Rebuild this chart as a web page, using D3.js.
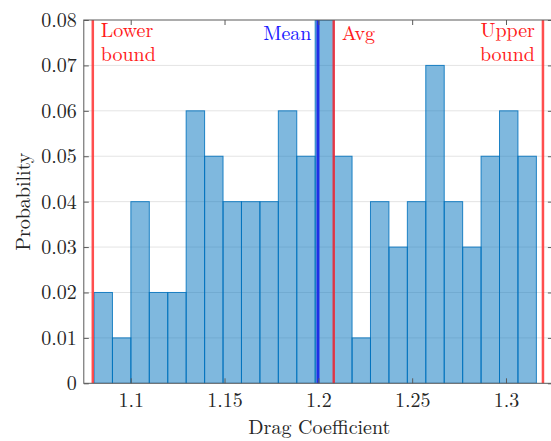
<!DOCTYPE html>
<html>
<head>
<meta charset="utf-8">
<script src="https://cdn.jsdelivr.net/npm/d3@7"></script>
<style>
  html, body { margin: 0; padding: 0; background: #fff; }
  svg { display: block; }
</style>
</head>
<body>
<svg id="chart" width="551" height="441"></svg>
<script>
// ---- data ----
const binStart = 1.08044;
const binWidth = 0.009823;
const probabilities = [0.02, 0.01, 0.04, 0.02, 0.02, 0.06, 0.05, 0.04, 0.04, 0.04, 0.06, 0.05,
                       0.08, 0.05, 0.01, 0.04, 0.03, 0.04, 0.07, 0.04, 0.03, 0.05, 0.06, 0.05];
const xTicks = [1.1, 1.15, 1.2, 1.25, 1.3];
const xTickLabels = ["1.1", "1.15", "1.2", "1.25", "1.3"];
const yTicks = [0, 0.01, 0.02, 0.03, 0.04, 0.05, 0.06, 0.07, 0.08];
const yTickLabels = ["0", "0.01", "0.02", "0.03", "0.04", "0.05", "0.06", "0.07", "0.08"];
const refNames = ["Lower bound", "Mean", "Avg", "Upper bound"];
const refValues = [1.0798, 1.1998, 1.2082, 1.3197];
const xDomain = [1.075, 1.325];
const yDomain = [0, 0.08];

// ---- layout ----
const FONT = "'Latin Modern Roman', 'CMU Serif', 'Liberation Serif', serif";
const padL = 83.8, padR = 552.9, padT = 20, padB = 383.3;
const svg = d3.select("#chart");
const x = d3.scaleLinear().domain(xDomain).range([padL, padR]);
const y = d3.scaleLinear().domain(yDomain).range([padB, padT]);

const bins = probabilities.map((p, i) => ({x0: binStart + i * binWidth, x1: binStart + (i + 1) * binWidth, p}));

svg.append("clipPath").attr("id", "plotclip")
  .append("rect").attr("x", padL).attr("y", padT).attr("width", padR - padL).attr("height", padB - padT);

// grid
svg.append("g").selectAll("line").data(yTicks.slice(1, -1)).join("line")
  .attr("x1", padL).attr("x2", padR)
  .attr("y1", d => y(d)).attr("y2", d => y(d))
  .attr("stroke", "#e4e4e4").attr("stroke-width", 1);

// bars
svg.append("g").attr("clip-path", "url(#plotclip)")
  .selectAll("rect").data(bins).join("rect")
  .attr("x", d => x(d.x0)).attr("width", d => x(d.x1) - x(d.x0))
  .attr("y", d => y(d.p)).attr("height", d => y(0) - y(d.p))
  .attr("fill", "rgb(0,114,189)").attr("fill-opacity", 0.5)
  .attr("stroke", "rgb(0,114,189)").attr("stroke-opacity", 0.85).attr("stroke-width", 1);

// reference lines
const refColors = ["#ff3b3b", "#1f2fe6", "#f0303c", "#ff3b3b"];
svg.append("g").selectAll("line").data(refValues).join("line")
  .attr("x1", d => x(d)).attr("x2", d => x(d))
  .attr("y1", padT).attr("y2", padB)
  .attr("stroke", (d, i) => refColors[i])
  .attr("stroke-width", (d, i) => i === 1 ? 3 : 2.5)
  .attr("stroke-opacity", (d, i) => i === 1 ? 1 : 0.9);

// axes box
const axisColor = "#5a5a5a";
svg.append("rect").attr("x", padL).attr("y", padT).attr("width", padR - padL).attr("height", padB - padT)
  .attr("fill", "none").attr("stroke", axisColor).attr("stroke-width", 1);

// x axis ticks (inward, both sides)
const xAxisBottom = d3.axisBottom(x).tickValues(xTicks).tickFormat((d, i) => xTickLabels[i]).tickSizeInner(-5).tickSizeOuter(0).tickPadding(10);
const gx = svg.append("g").attr("transform", `translate(0,${padB})`).call(xAxisBottom);
gx.select(".domain").remove();
gx.selectAll("line").attr("stroke", axisColor);
gx.selectAll("text").attr("fill", "#262626").style("font-size", "20px").style("font-family", FONT);
const xAxisTop = d3.axisTop(x).tickValues(xTicks).tickFormat("").tickSizeInner(-5).tickSizeOuter(0);
const gxt = svg.append("g").attr("transform", `translate(0,${padT})`).call(xAxisTop);
gxt.select(".domain").remove();
gxt.selectAll("line").attr("stroke", axisColor);

// y axis
const yAxisLeft = d3.axisLeft(y).tickValues(yTicks).tickFormat((d, i) => yTickLabels[i]).tickSizeInner(-5).tickSizeOuter(0).tickPadding(7);
const gy = svg.append("g").attr("transform", `translate(${padL},0)`).call(yAxisLeft);
gy.select(".domain").remove();
gy.selectAll("line").attr("stroke", axisColor);
gy.selectAll("text").attr("fill", "#262626").style("font-size", "20px").style("font-family", FONT);
const yAxisRight = d3.axisRight(y).tickValues(yTicks).tickFormat("").tickSizeInner(-5).tickSizeOuter(0);
const gyr = svg.append("g").attr("transform", `translate(${padR},0)`).call(yAxisRight);
gyr.select(".domain").remove();
gyr.selectAll("line").attr("stroke", axisColor);

// axis labels
svg.append("text").attr("x", (padL + padR) / 2 + 1).attr("y", 434)
  .attr("text-anchor", "middle").style("font-size", "20px").style("font-family", FONT).attr("fill", "#262626")
  .text("Drag Coefficient");
svg.append("text").attr("transform", `translate(30,${(padT + padB) / 2}) rotate(-90)`)
  .attr("text-anchor", "middle").style("font-size", "20px").style("font-family", FONT).attr("fill", "#262626")
  .text("Probability");

// reference labels (one text element per line)
function label(lines, xp, yp, anchor, color) {
  lines.forEach((s, i) => svg.append("text").attr("x", xp).attr("y", yp + i * 24).attr("text-anchor", anchor)
    .style("font-size", "20px").style("font-family", FONT).attr("fill", color).text(s));
}
const [lowerName, meanName, avgName, upperName] = refNames;
label(lowerName.split(" "), x(refValues[0]) + 8, 36.7, "start", "#ff1a1a");
label([meanName], x(refValues[1]) - 6.5, 40, "end", "#1a1aff");
label([avgName], x(refValues[2]) + 8, 40, "start", "#ff1a1a");
label(upperName.split(" "), x(refValues[3]) - 8, 36.7, "end", "#ff1a1a");
</script>
</body>
</html>
